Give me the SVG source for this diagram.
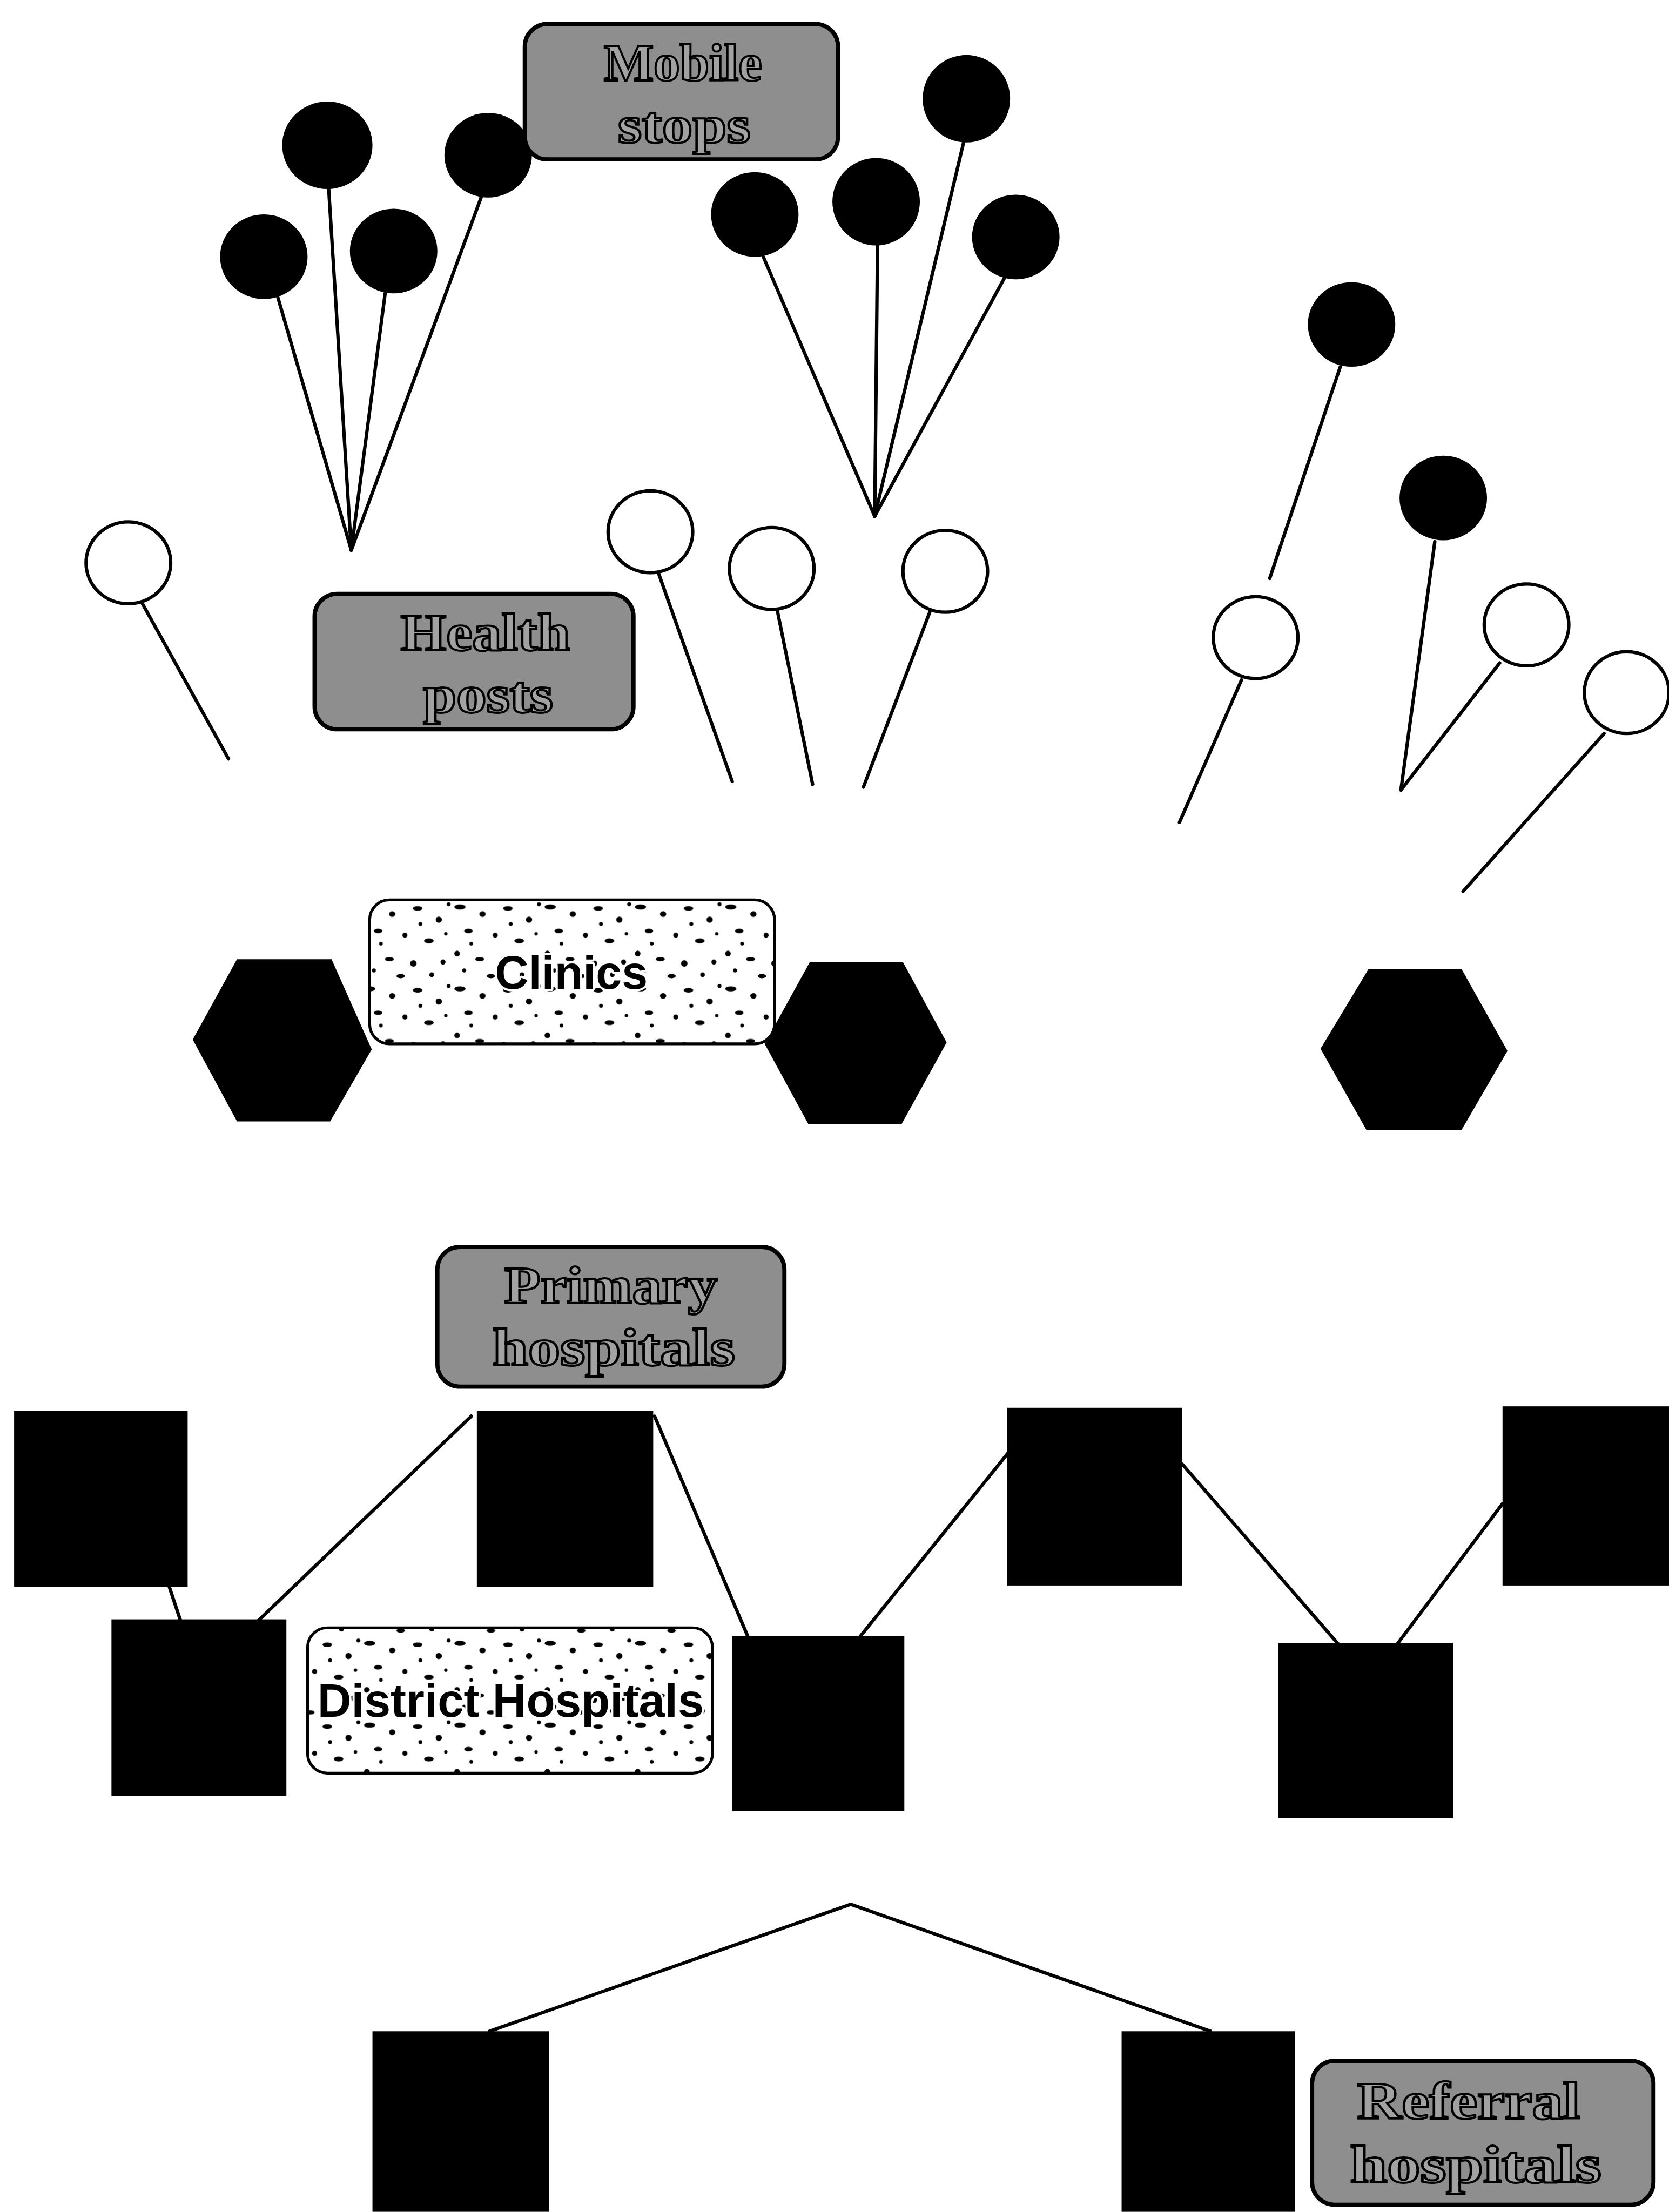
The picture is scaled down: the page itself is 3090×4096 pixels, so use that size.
<svg xmlns="http://www.w3.org/2000/svg" width="3090" height="4096" viewBox="0 0 3090 4096">
<style>
.bg{fill:#ffffff}
.stop{fill:#000}
.post{fill:#fff;stroke:#000;stroke-width:2.4}
.solid{fill:#000}
.lbl{fill:#8e8e8e;stroke:#000;stroke-width:3}
.lblw{fill:url(#speck);stroke:#000;stroke-width:2}
.ser{font-family:"Liberation Serif","Times New Roman",serif;font-weight:bold;font-size:37px;fill:#a2a2a2;stroke:#000;stroke-width:1.5;text-anchor:middle}
.sans{font-family:"Liberation Sans",Arial,sans-serif;font-weight:bold;font-size:33px;fill:#000;stroke:#fff;stroke-width:3;paint-order:stroke;stroke-linejoin:round;text-anchor:middle}
.ln{stroke:#000;stroke-width:2.4;fill:none;stroke-linecap:round}
</style>
<defs>
<pattern id="speck" patternUnits="userSpaceOnUse" width="64" height="58">
<rect width="64" height="58" fill="#fff"/>
<g fill="#000">
<ellipse cx="6" cy="5" rx="4" ry="1.8"/>
<ellipse cx="22" cy="10" rx="2.2" ry="2"/>
<ellipse cx="40" cy="6" rx="3.4" ry="1.6"/>
<ellipse cx="55" cy="14" rx="2.2" ry="2.2"/>
<ellipse cx="12" cy="22" rx="3" ry="1.6"/>
<ellipse cx="31" cy="25" rx="1.8" ry="1.8"/>
<ellipse cx="48" cy="29" rx="3.4" ry="1.7"/>
<ellipse cx="4" cy="38" rx="2" ry="2"/>
<ellipse cx="20" cy="42" rx="3.2" ry="1.5"/>
<ellipse cx="37" cy="45" rx="2.3" ry="2.3"/>
<ellipse cx="58" cy="44" rx="1.8" ry="1.8"/>
<ellipse cx="28" cy="54" rx="3" ry="1.5"/>
<ellipse cx="50" cy="53" rx="1.7" ry="1.7"/>
<ellipse cx="62" cy="3" rx="1.4" ry="1.4"/>
<ellipse cx="14" cy="31" rx="1.3" ry="1.3"/>
<ellipse cx="42" cy="17" rx="1.4" ry="1.4"/>
<ellipse cx="60" cy="24" rx="1.2" ry="1.2"/>
<ellipse cx="9" cy="50" rx="1.4" ry="1.4"/>
</g>
</pattern>
</defs>
<rect class="bg" x="0" y="0" width="3090" height="4096"/>
<g transform="scale(2.612)">
<g id="connectors">
<line class="ln" x1="233" y1="134" x2="249" y2="390"/>
<line class="ln" x1="197" y1="211" x2="249" y2="390"/>
<line class="ln" x1="273" y1="208" x2="249" y2="390"/>
<line class="ln" x1="341" y1="140" x2="249" y2="390"/>
<line class="ln" x1="541" y1="182" x2="620" y2="366"/>
<line class="ln" x1="622" y1="174" x2="620" y2="366"/>
<line class="ln" x1="683" y1="101" x2="620" y2="366"/>
<line class="ln" x1="712" y1="197" x2="620" y2="366"/>
<line class="ln" x1="950" y1="260" x2="900" y2="410"/>
<line class="ln" x1="1017" y1="384" x2="993" y2="560"/>
<line class="ln" x1="1063" y1="470" x2="993" y2="560"/>
<line class="ln" x1="1137" y1="520" x2="1037" y2="632"/>
<line class="ln" x1="880" y1="482" x2="836" y2="583"/>
<line class="ln" x1="101" y1="428" x2="162" y2="538"/>
<line class="ln" x1="467" y1="407" x2="519" y2="554"/>
<line class="ln" x1="551" y1="433" x2="576" y2="556"/>
<line class="ln" x1="659" y1="434" x2="612" y2="558"/>
<line class="ln" x1="120" y1="1125" x2="128" y2="1149"/>
<line class="ln" x1="334" y1="1004" x2="183" y2="1149"/>
<line class="ln" x1="464" y1="1004" x2="530" y2="1160"/>
<line class="ln" x1="609" y1="1161" x2="717" y2="1027"/>
<line class="ln" x1="838" y1="1038" x2="949" y2="1166"/>
<line class="ln" x1="990" y1="1166" x2="1065" y2="1066"/>
<line class="ln" x1="603" y1="1350" x2="347" y2="1440"/>
<line class="ln" x1="603" y1="1350" x2="858" y2="1440"/>
</g>
<g id="mobile-stops">
<ellipse class="stop" cx="232" cy="103" rx="32" ry="31"/>
<ellipse class="stop" cx="346" cy="110" rx="31" ry="30"/>
<ellipse class="stop" cx="187" cy="182" rx="31" ry="30"/>
<ellipse class="stop" cx="279" cy="178" rx="31" ry="30"/>
<ellipse class="stop" cx="685" cy="70" rx="31" ry="31"/>
<ellipse class="stop" cx="535" cy="152" rx="31" ry="30"/>
<ellipse class="stop" cx="621" cy="143" rx="31" ry="31"/>
<ellipse class="stop" cx="720" cy="168" rx="31" ry="30"/>
<ellipse class="stop" cx="958" cy="230" rx="31" ry="30"/>
<ellipse class="stop" cx="1023" cy="353" rx="31" ry="30"/>
</g>
<g id="health-posts">
<ellipse class="post" cx="91" cy="399" rx="30" ry="29"/>
<ellipse class="post" cx="461" cy="377" rx="30" ry="29"/>
<ellipse class="post" cx="547" cy="403" rx="30" ry="29"/>
<ellipse class="post" cx="670" cy="405" rx="30" ry="29"/>
<ellipse class="post" cx="890" cy="452" rx="30" ry="29"/>
<ellipse class="post" cx="1082" cy="443" rx="30" ry="29"/>
<ellipse class="post" cx="1153" cy="491" rx="30" ry="29"/>
</g>
<g id="clinics">
<polygon class="solid" points="168,680 235,680 263.5,744 234,795 168,795 136.6,737"/>
<polygon class="solid" points="574,682 640,682 671,739 639,797 573,797 542,740"/>
<polygon class="solid" points="970,687 1036,687 1068.5,745 1036,801 968.5,801 936,743.5"/>
</g>
<g id="primary-hospitals">
<rect class="solid" x="10" y="1000" width="123" height="125"/>
<rect class="solid" x="338" y="1000" width="125" height="125"/>
<rect class="solid" x="714" y="998" width="124" height="126"/>
<rect class="solid" x="1065" y="997" width="118" height="127"/>
</g>
<g id="district-hospitals">
<rect class="solid" x="79" y="1148" width="124" height="125"/>
<rect class="solid" x="519" y="1160" width="122" height="124"/>
<rect class="solid" x="906" y="1165" width="124" height="124"/>
</g>
<g id="referral-hospitals">
<rect class="solid" x="264" y="1440" width="125" height="128"/>
<rect class="solid" x="795" y="1440" width="123" height="128"/>
</g>
<g id="label-mobile-stops">
<rect class="lbl" x="372" y="17" width="222" height="96" rx="16"/>
<text class="ser" x="484" y="57" textLength="112" lengthAdjust="spacingAndGlyphs">Mobile</text>
<text class="ser" x="485" y="101" textLength="94" lengthAdjust="spacingAndGlyphs">stops</text>
</g>
<g id="label-health-posts">
<rect class="lbl" x="223" y="421" width="226" height="96" rx="16"/>
<text class="ser" x="344" y="461" textLength="120" lengthAdjust="spacingAndGlyphs">Health</text>
<text class="ser" x="346" y="505" textLength="92" lengthAdjust="spacingAndGlyphs">posts</text>
</g>
<g id="label-clinics">
<rect class="lblw" x="262" y="638" width="287" height="102" rx="14"/>
<text class="sans" x="405" y="701">Clinics</text>
</g>
<g id="label-primary-hospitals">
<rect class="lbl" x="310" y="884" width="246" height="99" rx="16"/>
<text class="ser" x="433" y="924" textLength="151" lengthAdjust="spacingAndGlyphs">Primary</text>
<text class="ser" x="435" y="968" textLength="172" lengthAdjust="spacingAndGlyphs">hospitals</text>
</g>
<g id="label-district-hospitals">
<rect class="lblw" x="218" y="1154" width="287" height="103" rx="14"/>
<text class="sans" x="362" y="1217" textLength="274" lengthAdjust="spacingAndGlyphs">District Hospitals</text>
</g>
<g id="label-referral-hospitals">
<rect class="lbl" x="930" y="1461" width="242" height="102" rx="16"/>
<text class="ser" x="1041" y="1502" textLength="158" lengthAdjust="spacingAndGlyphs">Referral</text>
<text class="ser" x="1046" y="1547" textLength="178" lengthAdjust="spacingAndGlyphs">hospitals</text>
</g>
</g>
</svg>
